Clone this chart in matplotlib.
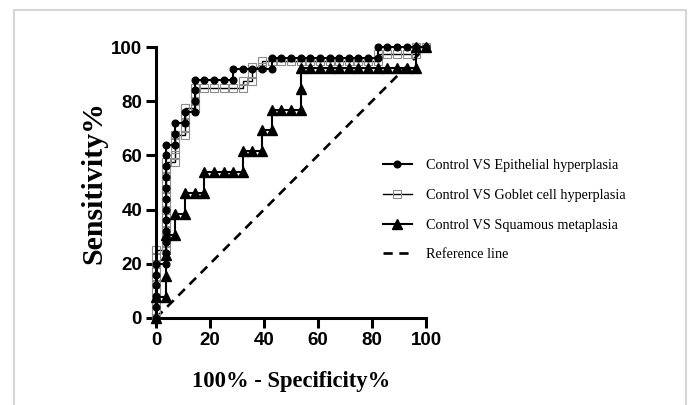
import numpy as np
import matplotlib
matplotlib.use("Agg")
import matplotlib.pyplot as plt
from matplotlib.patches import Rectangle

# group sizes read from the step heights / widths of the curves
n_control = 28
n_epi = 25
n_gob = 40
n_squ = 13

# false positive / true positive counts at each plotted point
epi_fp = [0, 0, 0, 0, 0, 0, 1, 1, 1, 1, 1, 1, 1, 1, 1, 1, 1, 1, 2, 2, 2, 3, 3, 4, 4, 4, 4,
          5, 6, 7, 8, 8, 9, 10, 11, 12, 12, 13, 14, 15, 16, 17, 18, 19, 20, 21, 22, 23,
          23, 24, 25, 26, 27, 28]
epi_tp = [0, 1, 2, 3, 4, 5, 5, 6, 7, 8, 9, 10, 11, 12, 13, 14, 15, 16, 16, 17, 18, 18, 19, 19, 20, 21, 22,
          22, 22, 22, 22, 23, 23, 23, 23, 23, 24, 24, 24, 24, 24, 24, 24, 24, 24, 24, 24, 24,
          25, 25, 25, 25, 25, 25]

gob_fp = [0, 0, 0, 0, 0, 0, 0, 0, 0, 0, 0,
          1, 1, 1, 1, 1, 1, 1, 1, 1, 1, 1, 1, 1, 1,
          2, 2, 2, 2, 2, 3, 3, 3, 3, 3, 4, 4, 4, 4,
          5, 6, 7, 8, 9, 9, 10, 10, 10, 11, 11,
          12, 13, 14, 15, 16, 17, 18, 19, 20, 21, 22, 23, 23, 24, 25, 26, 27, 27, 28]
gob_tp = [0, 1, 2, 3, 4, 5, 6, 7, 8, 9, 10,
          10, 11, 12, 13, 14, 15, 16, 17, 18, 19, 20, 21, 22, 23,
          23, 24, 25, 26, 27, 27, 28, 29, 30, 31, 31, 32, 33, 34,
          34, 34, 34, 34, 34, 35, 35, 36, 37, 37, 38,
          38, 38, 38, 38, 38, 38, 38, 38, 38, 38, 38, 38, 39, 39, 39, 39, 39, 40, 40]

squ_fp = [0, 0, 1, 1, 1, 1, 2, 2, 3, 3, 4, 5, 5, 6, 7, 8, 9, 9, 10, 11, 11, 12, 12, 13, 14,
          15, 15, 15, 16, 17, 18, 19, 20, 21, 22, 23, 24, 25, 26, 27, 27, 28]
squ_tp = [0, 1, 1, 2, 3, 4, 4, 5, 5, 6, 6, 6, 7, 7, 7, 7, 7, 8, 8, 8, 9, 9, 10, 10, 10,
          10, 11, 12, 12, 12, 12, 12, 12, 12, 12, 12, 12, 12, 12, 12, 13, 13]

labels = ["Control VS Epithelial hyperplasia",
          "Control VS Goblet cell hyperplasia",
          "Control VS Squamous metaplasia",
          "Reference line"]

fig = plt.figure(figsize=(6.92, 4.05), dpi=100)
fig.patches.append(Rectangle((14 / 692, -0.1), 672 / 692, 1.1 - 10 / 405,
                             transform=fig.transFigure, fill=False,
                             edgecolor="#d6d6d6", linewidth=1.5))
ax = fig.add_axes([156 / 692, 87 / 405, 270 / 692, 271 / 405])

def pct(c, n):
    return np.array(c) * 100.0 / n

ax.plot([0, 100], [0, 100], color="black", linestyle=(0, (3.5, 2.5)), linewidth=1.9,
        label=labels[3], zorder=1)
ax.plot(pct(gob_fp, n_control), pct(gob_tp, n_gob), color="black", linewidth=1.0,
        marker="s", markersize=6, markerfacecolor="none", markeredgecolor="#8c8c8c",
        markeredgewidth=0.8, label=labels[1], clip_on=False, zorder=2)
ax.plot(pct(epi_fp, n_control), pct(epi_tp, n_epi), color="black", linewidth=1.5,
        marker="o", markersize=4.8, label=labels[0], clip_on=False, zorder=3)
ax.plot(pct(squ_fp, n_control), pct(squ_tp, n_squ), color="black", linewidth=1.5,
        marker="^", markersize=6.5, label=labels[2], clip_on=False, zorder=4)

ax.set_xlim(0, 100)
ax.set_ylim(0, 100)
ax.set_xticks([0, 20, 40, 60, 80, 100])
ax.set_yticks([0, 20, 40, 60, 80, 100])
for s in ["top", "right"]:
    ax.spines[s].set_visible(False)
for s in ["left", "bottom"]:
    ax.spines[s].set_linewidth(2.2)
ax.tick_params(direction="out", length=7, width=2.2, pad=3)
for t in ax.get_xticklabels() + ax.get_yticklabels():
    t.set_fontfamily("Liberation Sans")
    t.set_fontweight("bold")
    t.set_fontsize(13.5)

ax.set_xlabel("100% - Specificity%", fontfamily="Liberation Serif", fontweight="bold",
              fontsize=16.3, labelpad=16)
ax.set_ylabel("Sensitivity%", fontfamily="Liberation Serif", fontweight="bold",
              fontsize=21.5, labelpad=2.5)

h, l = ax.get_legend_handles_labels()
order = [2, 1, 3, 0]
ax.legend([h[i] for i in order], [l[i] for i in order], loc="upper left",
          bbox_to_anchor=(383 / 692, 1 - 159 / 405), bbox_transform=fig.transFigure,
          frameon=False, prop={"family": "Liberation Serif", "size": 10.3},
          handlelength=2.0, handletextpad=1.0, labelspacing=1.17, borderpad=0,
          borderaxespad=0)

fig.savefig("out.png", dpi=100)
